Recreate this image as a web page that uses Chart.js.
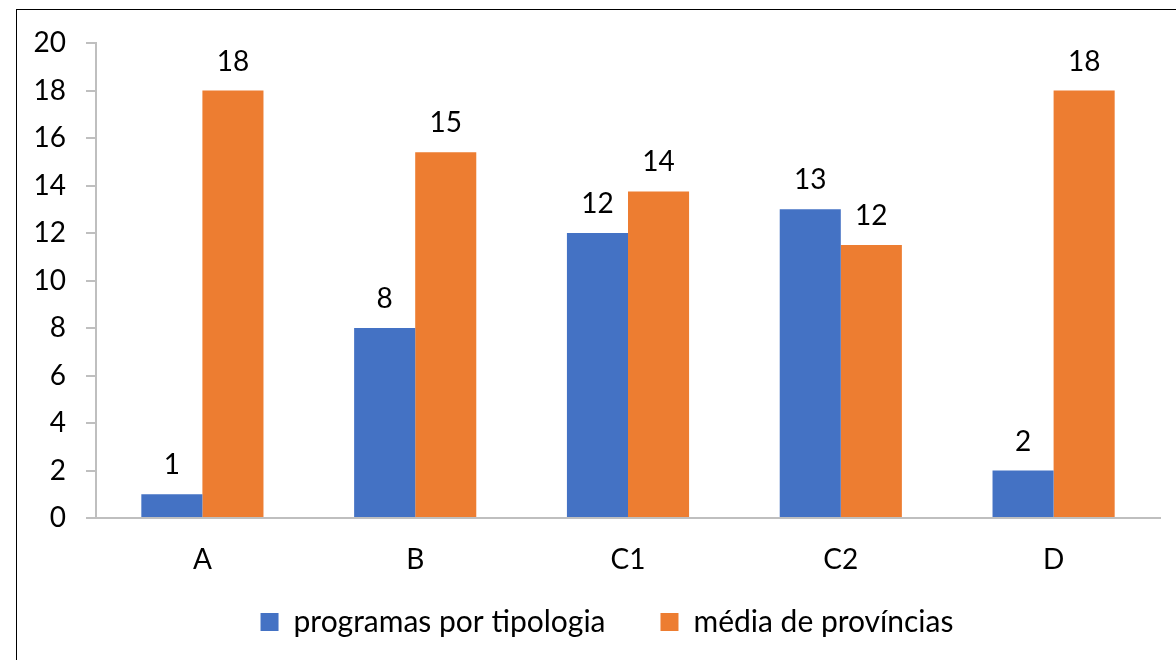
<!DOCTYPE html>
<html>
<head>
<meta charset="utf-8">
<script src="https://cdn.jsdelivr.net/npm/chart.js@4/dist/chart.umd.min.js"></script>
<style>
html,body{margin:0;padding:0;background:#fff;}
#wrap{position:relative;width:1176px;height:660px;overflow:hidden;}
#frame{position:absolute;left:16px;top:9px;width:1200px;height:700px;border:1.5px solid #000;box-sizing:border-box;}
canvas{position:absolute;left:0;top:0;}
</style>
</head>
<body>
<div id="wrap">
<div id="frame"></div>
<canvas id="c" width="1176" height="660"></canvas>
</div>
<script>
const categories = ['A', 'B', 'C1', 'C2', 'D'];
const programasPorTipologia = [1, 8, 12, 13, 2];
const mediaDeProvincias = [18, 15.4, 13.75, 11.5, 18];
const seriesNames = ['programas por tipologia', 'média de províncias'];
const yMin = 0, yMax = 20, yStep = 2;

const FONT = 'Lato, "Open Sans", sans-serif';
const LEGEND_GAP = 55;
const LEGEND_TRIM = 26;
const LEGEND_SHIFT_X = 17;

const valueLabels = {
  id: 'valueLabels',
  afterDatasetsDraw(chart) {
    const ctx = chart.ctx;
    ctx.save();
    ctx.font = '28px ' + FONT;
    ctx.fillStyle = '#000';
    ctx.textAlign = 'center';
    ctx.textBaseline = 'middle';
    chart.data.datasets.forEach((ds, i) => {
      const meta = chart.getDatasetMeta(i);
      meta.data.forEach((el, j) => {
        ctx.fillText(String(Math.round(ds.data[j])), el.x, el.y - 29);
      });
    });
    ctx.restore();
  }
};

const legendTweak = {
  id: 'legendTweak',
  beforeLayout(chart) {
    const lg = chart.legend;
    if (lg && !lg.__wrapped) {
      const orig = lg.fit;
      lg.fit = function () { orig.call(this); this.height -= LEGEND_TRIM; };
      lg.__wrapped = true;
    }
  },
  afterLayout(chart) {
    const lg = chart.legend;
    if (lg) {
      lg.top -= LEGEND_TRIM;
      lg.height += LEGEND_TRIM;
      lg.left += LEGEND_SHIFT_X; lg.right += LEGEND_SHIFT_X;
    }
  }
};

new Chart(document.getElementById('c'), {
  type: 'bar',
  data: {
    labels: categories,
    datasets: [
      { label: seriesNames[0], data: programasPorTipologia, backgroundColor: '#4472C4', barPercentage: 1, categoryPercentage: 0.574 },
      { label: seriesNames[1], data: mediaDeProvincias, backgroundColor: '#ED7D31', barPercentage: 1, categoryPercentage: 0.574 }
    ]
  },
  options: {
    responsive: false,
    animation: false,
    layout: { padding: { left: 20, right: 16, top: 43, bottom: 13 } },
    plugins: {
      legend: {
        position: 'bottom',
        labels: {
          font: { family: FONT, size: 30 },
          color: '#000',
          boxWidth: 18,
          boxHeight: 18,
          padding: LEGEND_GAP
        }
      },
      tooltip: { enabled: false }
    },
    scales: {
      x: {
        grid: { display: false },
        border: { display: true, color: '#BFBFBF', width: 2 },
        ticks: { font: { family: FONT, size: 28 }, color: '#000', padding: 17 },
        afterFit(s) { s.height = 60; }
      },
      y: {
        min: yMin, max: yMax,
        ticks: { stepSize: yStep, font: { family: FONT, size: 28 }, color: '#000', padding: 20 },
        grid: { drawOnChartArea: false, drawTicks: true, tickLength: 10, color: '#BFBFBF', lineWidth: 2 },
        border: { display: true, color: '#BFBFBF', width: 2 },
        afterFit(s) { s.width = 76; }
      }
    }
  },
  plugins: [valueLabels, legendTweak]
});
</script>
</body>
</html>
